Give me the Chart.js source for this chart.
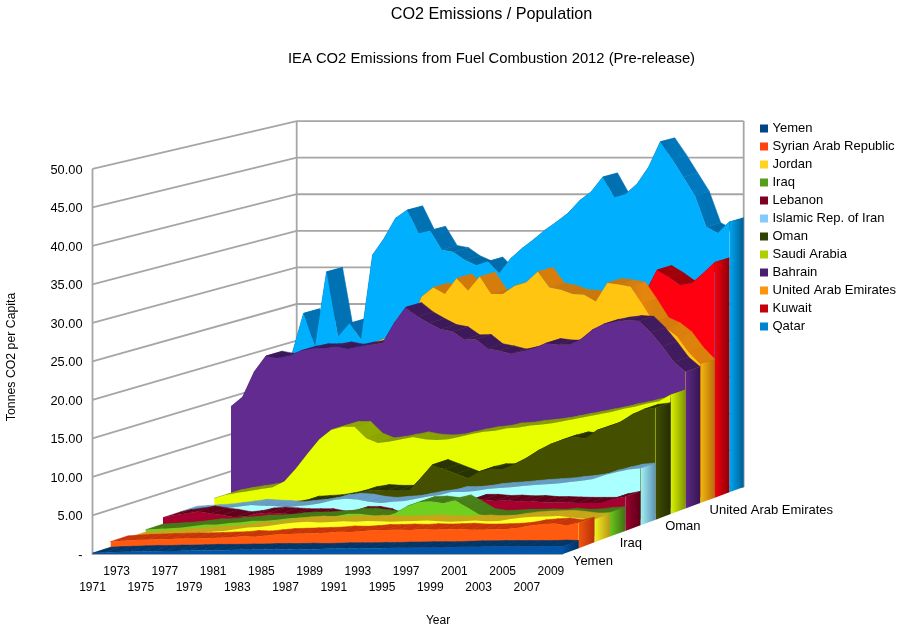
<!DOCTYPE html>
<html><head><meta charset="utf-8">
<style>html,body{margin:0;padding:0;background:#fff}canvas{display:block}</style>
<script src="https://cdn.jsdelivr.net/npm/chart.js@4"></script>
</head><body>
<canvas id="c" width="906" height="631" style="width:906px;height:631px"></canvas>
<script>
const years=['1971','1972','1973','1974','1975','1976','1977','1978','1979','1980','1981','1982','1983','1984','1985','1986','1987','1988','1989','1990','1991','1992','1993','1994','1995','1996','1997','1998','1999','2000','2001','2002','2003','2004','2005','2006','2007','2008','2009','2010'];
const yemen=[.12,.2,.25,.3,.35,.35,.4,.4,.45,.5,.5,.5,.55,.55,.6,.6,.6,.65,.6,.65,.7,.7,.7,.75,.75,.8,.8,.85,.85,.85,.9,.95,.95,1,1,1,1,1,1.05,1];
const syria=[.85,.95,1.05,1.1,1.15,1.2,1.25,1.25,1.3,1.35,1.4,1.55,1.5,1.65,1.8,1.85,1.9,1.95,2,2.15,2.1,2.2,2.35,2.35,2.4,2.35,2.45,2.4,2.45,2.5,2.4,2.4,2.45,2.5,2.65,2.95,3.1,3.2,2.95,3.3];
const jordan=[.6,.7,.8,.95,1.1,1.2,1.3,1.4,1.5,1.7,1.95,2,2.2,2.45,2.6,2.7,2.6,2.65,2.75,2.7,2.8,2.75,2.7,2.75,2.8,2.85,2.75,2.7,2.75,2.85,2.75,2.8,3.05,3.25,3.35,3.4,3.45,3.3,3.1,3];
const iraq=[.9,1,1.1,1.2,1.4,1.6,1.6,1.8,1.9,2.1,2.1,2.2,2.4,2.5,2.5,2.6,2.7,3,3,2.8,2.6,3.1,4,4.55,4.6,4.4,4.75,3.9,2.95,2.7,2.75,2.85,2.85,2.9,2.85,3,2.85,2.9,3.1,3.2];
const lebanon=[1.75,2.1,2.3,2.55,2.3,2.1,1.8,1.95,2.3,2.4,2.3,2.2,2.2,2.2,1.9,2,2.5,2.5,2.2,1.5,1.5,1.8,2,2.5,3,3.5,4.1,4.1,3.95,4,3.9,3.95,3.8,3.8,3.75,3.7,3.7,3.7,4.2,4.5];
const iran=[1.8,1.9,2,2.1,2.3,2.5,2.7,2.6,2.55,2.4,2.55,2.7,2.95,3.35,3.5,3.4,3.1,2.95,3.1,3.2,3.5,3.8,4,4.4,4.4,4.55,4.8,4.95,5.05,5.2,5.35,5.45,5.55,5.75,5.9,6.15,6.65,7.05,7.4,7.55];
const oman=[.9,1,1.1,1.3,1.4,1.5,1.6,1.7,1.9,2.4,2.5,2.6,2.85,3.2,3.7,3.95,3.85,3.85,3.85,5.5,7.3,6.7,6.1,5.5,6.4,6.75,6.75,7.4,8.2,9.2,10,10.6,11,10.8,11.9,12.4,13,14,14.7,14.9];
const saudi=[2.1,2.55,2.85,3.1,3.35,3.6,4.35,6.1,8.1,10,11.25,11.7,11.7,10.15,9.5,9.7,10,10.3,10,9.9,10,10.35,10.7,11,11.15,11.5,11.6,11.85,12,12.2,12.5,12.8,13.1,13.4,13.7,14.1,14.4,14.8,15.1,15.95];
const bahrain=[13.7,15,18.4,20.5,20.2,20.5,21.2,21.5,21.5,21.75,21.45,21.75,22,22.2,24.9,27.05,25.8,24.9,24.1,23.8,22.7,22.75,21.5,21.2,20.8,21.1,21.5,22.2,22,22,22.7,24,24.8,25.1,25.3,25.2,23.7,21.8,19.7,18.4];
const uae=[14,17,18,18,19,19,19.5,20,20,20.5,21,21.7,22.3,22.5,24,27.85,29.1,28.2,30.3,28.7,30.55,28.2,28.2,29.3,29.75,31.2,29.1,28.8,28.2,28.1,27.2,29.7,29.5,29.2,26.9,24.4,23.7,22.5,20.4,18.77];
const kuwait=[16,16,16.5,17,17,17.5,17.5,18,18,18,18.5,18.5,19,19,22,24,26,29,28,26,25,25,25.5,26,26,25.5,25.5,25,25,25,25,26,27,27.8,30.85,29.9,28.8,29.05,30.4,31.9];
const qatar=[18.5,18.8,24.35,19.8,30,21.2,23,20.8,32.3,34.55,37.3,38.4,35.2,35.6,33,32.7,31.6,30.9,31.4,29.8,31.8,33.2,34.4,35.7,36.8,38,39.7,40.9,42.9,40.1,40.6,42,44.3,47.7,45.4,42.9,40.4,36.1,35.3,36.8];
const seriesNames=['Yemen','Syrian Arab Republic','Jordan','Iraq','Lebanon','Islamic Rep. of Iran','Oman','Saudi Arabia','Bahrain','United Arab Emirates','Kuwait','Qatar'];
const seriesValues=[yemen,syria,jordan,iraq,lebanon,iran,oman,saudi,bahrain,uae,kuwait,qatar];
const legendColors=['#004586','#ff420e','#ffd320','#579d1c','#7e0021','#83caff','#314004','#aecf00','#4b1f6f','#ff950e','#c5000b','#0084d1'];
const faceColors=['#0055A8','#FF5A10','#FFFF20','#70D020','#A50030','#AAFFFF','#445000','#E8FF00','#622B90','#FFC510','#FF0010','#00B0FF'];
const depthLabels=[[0,'Yemen'],[3,'Iraq'],[6,'Oman'],[9,'United Arab Emirates']];

const FONT='"Liberation Sans", Arial, sans-serif';
const X0=92.5, Y0=554, BACK_X=204.2, BACK_Y=67, K=0.0526, N=seriesNames.length;
const depthT=d=>d*(1+K)/(1+K*d);
const depthS=d=>1/(1+K*d);
function plane(d){const t=depthT(d),s=depthS(d);return {s,e:X0+BACK_X*t-X0*s,f:Y0-BACK_Y*t-Y0*s};}
function proj(x,y,d){const p=plane(d);return [p.s*x+p.e,p.s*y+p.f];}
function rgb(h){return [parseInt(h.slice(1,3),16),parseInt(h.slice(3,5),16),parseInt(h.slice(5,7),16)];}
function shade(h,f){const c=rgb(h).map(v=>Math.min(255,Math.round(v*f)));return `rgb(${c[0]},${c[1]},${c[2]})`;}

function drawFaces(chart,meta){
  const ctx=chart.ctx,i=meta.index,pts=meta.data,base=legendColors[i];
  const d0=i/N,d1=(i+1)/N;
  const segF=[];
  for(let j=0;j<pts.length-1;j++){
    const sl=(pts[j+1].y-pts[j].y)/(pts[j+1].x-pts[j].x);
    segF.push(0.78+0.15*Math.min(1,Math.max(0,sl)/2));
  }
  const ptF=pts.map((p,j)=>{const a=j>0?segF[j-1]:segF[j],b=j<segF.length?segF[j]:segF[j-1];return (a+b)/2;});
  ctx.save();
  for(let j=0;j<pts.length-1;j++){
    const a=proj(pts[j].x,pts[j].y,d0),b=proj(pts[j+1].x,pts[j+1].y,d0),
          c=proj(pts[j+1].x,pts[j+1].y,d1),e=proj(pts[j].x,pts[j].y,d1);
    const g=ctx.createLinearGradient(a[0],0,b[0],0);
    g.addColorStop(0,shade(base,ptF[j]));g.addColorStop(1,shade(base,ptF[j+1]));
    ctx.beginPath();ctx.moveTo(a[0],a[1]);ctx.lineTo(b[0],b[1]);ctx.lineTo(c[0],c[1]);ctx.lineTo(e[0],e[1]);ctx.closePath();
    ctx.fillStyle=g;ctx.strokeStyle=g;ctx.lineWidth=.5;ctx.fill();ctx.stroke();
  }
  const last=pts[pts.length-1],by=chart.scales.y.getPixelForValue(0);
  const a=proj(last.x,last.y,d0),b=proj(last.x,last.y,d1),c=proj(last.x,by,d1),e=proj(last.x,by,d0);
  const g=ctx.createLinearGradient(a[0],0,b[0],0);
  g.addColorStop(0,shade(faceColors[i],.95));g.addColorStop(1,shade(base,.72));
  ctx.beginPath();ctx.moveTo(a[0],a[1]);ctx.lineTo(b[0],b[1]);ctx.lineTo(c[0],c[1]);ctx.lineTo(e[0],e[1]);ctx.closePath();
  ctx.fillStyle=g;ctx.fill();
  ctx.restore();
}

const deepPlugin={
  id:'deep',
  beforeInit(chart){
    const orig=chart._drawDataset;
    chart._drawDataset=function(meta){
      drawFaces(this,meta);
      const p=plane(meta.index/N),ctx=this.ctx;
      ctx.save();ctx.transform(p.s,0,0,p.s,p.e,p.f);
      orig.call(this,meta);
      ctx.restore();
    };
  },
  afterLayout(chart){
    chart.boxes.filter(b=>b.position==='top').forEach(b=>{b.left=0;b.right=983;});
    const l=chart.legend;l.left=757;l.right=906;l.top=117;l.bottom=631;
    const sx=chart.scales.x,sy=chart.scales.y;
    if(!sx._titleMoved){
      sx._titleMoved=true;
      const ox=sx.drawTitle,oy=sy.drawTitle,ol=sy.drawLabels;
      sx.drawTitle=function(){const c=this.ctx;c.save();c.translate(110.25,0);ox.call(this);c.restore();};
      sy.drawTitle=function(){const c=this.ctx;c.save();c.translate(0,-4.5);oy.call(this);c.restore();};
      sy.drawLabels=function(a){const c=this.ctx;c.save();c.translate(0,1.2);ol.call(this,a);c.restore();};
    }
  },
  beforeDatasetsDraw(chart){
    const ctx=chart.ctx,sx=chart.scales.x,sy=chart.scales.y,L=sx.left,R=sx.right;
    ctx.save();ctx.strokeStyle='#a6a6a6';ctx.lineWidth=1.8;ctx.lineCap='butt';
    const line=(a,b,c)=>{ctx.beginPath();ctx.moveTo(a[0],a[1]);ctx.lineTo(b[0],b[1]);if(c)ctx.lineTo(c[0],c[1]);ctx.stroke();};
    sy.ticks.forEach(t=>{
      const y=sy.getPixelForValue(t.value);
      line(proj(L,y,0),proj(L,y,1),proj(R,y,1));
    });
    const top=sy.getPixelForValue(50),bot=sy.getPixelForValue(0);
    line(proj(L,top,0),proj(L,bot,0),proj(R,bot,0));
    line(proj(L,top,1),proj(L,bot,1));
    line(proj(R,top,1),proj(R,bot,1));
    ctx.restore();
  },
  afterDraw(chart){
    const ctx=chart.ctx,R=chart.scales.x.right,bot=chart.scales.y.getPixelForValue(0);
    ctx.save();ctx.font='13px '+FONT;ctx.fillStyle='#000';ctx.textAlign='left';ctx.textBaseline='middle';
    depthLabels.forEach(([i,txt])=>{
      const p=proj(R,bot,(i+.5)/N);
      ctx.fillText(txt,p[0]+2,p[1]+10);
    });
    ctx.restore();
  }
};

new Chart(document.getElementById('c'),{
  type:'line',
  data:{labels:years,datasets:seriesValues.map((v,i)=>({
    label:seriesNames[i],data:v,backgroundColor:faceColors[i],borderColor:faceColors[i],
    borderWidth:0,pointRadius:0,tension:0,fill:'origin',clip:false
  }))},
  options:{
    responsive:false,animation:false,
    layout:{padding:{left:0,top:0,bottom:0,right:213}},
    scales:{
      x:{type:'category',offset:false,
        grid:{display:false,drawTicks:false},border:{display:false},
        afterFit(s){s.height=77;},
        title:{display:true,text:'Year',color:'#000',font:{family:FONT,size:12},padding:{top:0,bottom:2.8}},
        ticks:{autoSkip:false,maxRotation:0,minRotation:0,color:'#000',padding:10,
          font:{family:FONT,size:12,lineHeight:1.33},
          callback(v,n){const y=years[n];return n%2?'':(n%4===0?['',y]:[y]);}}
      },
      y:{min:0,max:50,
        grid:{display:false,drawTicks:false},border:{display:false},
        afterFit(s){s.width=92.5;},
        title:{display:true,text:'Tonnes CO2 per Capita',color:'#000',font:{family:FONT,size:12.3},padding:{top:4.6,bottom:0}},
        ticks:{stepSize:5,color:'#000',padding:10,font:{family:FONT,size:12.8},
          callback(v){return v===0?'-':v.toFixed(2);}}
      }
    },
    plugins:{
      title:{display:true,text:'CO2 Emissions / Population',color:'#000',font:{family:FONT,size:16.2,weight:'normal'},padding:{top:5.2,bottom:0}},
      subtitle:{display:true,text:'IEA CO2 Emissions from Fuel Combustion 2012 (Pre-release)',color:'#000',font:{family:FONT,size:14.8,weight:'normal'},padding:{top:25,bottom:101.4}},
      tooltip:{enabled:false},
      legend:{display:true,position:'right',align:'start',maxWidth:130,
        labels:{boxWidth:4,boxHeight:4,padding:5,color:'#000',font:{family:FONT,size:13},
          generateLabels(){return seriesNames.map((t,i)=>({text:t,fillStyle:legendColors[i],strokeStyle:legendColors[i],lineWidth:4,datasetIndex:i,hidden:false}));}}
      }
    }
  },
  plugins:[deepPlugin]
});
</script>
</body></html>
